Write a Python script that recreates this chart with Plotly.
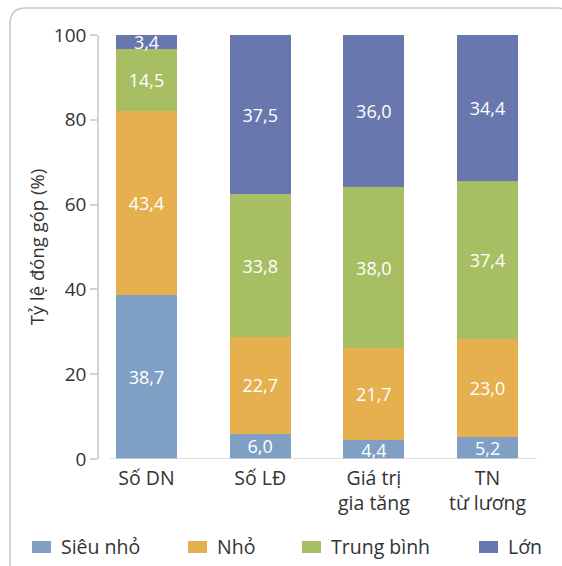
import plotly.graph_objects as go

# Data: share of contribution by enterprise size (%)
categories = ["Số DN", "Số LĐ", "Giá trị<br>gia tăng", "TN<br>từ lương"]
series_names = ["Siêu nhỏ", "Nhỏ", "Trung bình", "Lớn"]
sieu_nho = [38.7, 6.0, 4.4, 5.2]
nho = [43.4, 22.7, 21.7, 23.0]
trung_binh = [14.5, 33.8, 38.0, 37.4]
lon = [3.4, 37.5, 36.0, 34.4]
colors = ["#809fc5", "#e6b04e", "#a7bf62", "#6878ae"]
y_ticks = [0, 20, 40, 60, 80, 100]

W, H = 562, 566
L, R, T, B = 99, 25, 35, 107
pw, ph = W - L - R, H - T - B
FONT = "Open Sans"
TXT = "#333333"


def px(x):
    return (x - L) / pw


def py(y):
    return (H - B - y) / ph


def fmt(v):
    return f"{v:.1f}".replace(".", ",")


fig = go.Figure()
xs = list(range(len(categories)))
for name, vals, col in zip(series_names, [sieu_nho, nho, trung_binh, lon], colors):
    fig.add_trace(go.Bar(
        x=xs, y=vals, name=name, marker=dict(color=col, line=dict(width=0)),
        width=0.537, text=[fmt(v) for v in vals], textposition="inside",
        insidetextanchor="middle", textangle=0,
        textfont=dict(color="white", size=18, family=FONT),
        showlegend=False, cliponaxis=True,
    ))

shapes = []
# rounded frame (left and top edges visible)
r = 16
x0, y0, x1, y1 = 10, 8, 573, 572
path = (f"M {px(x0 + 8)},{py(y1)} Q {px(x0)},{py(y1)} {px(x0)},{py(y1 - 8)} "
        f"L {px(x0)},{py(y0 + r)} "
        f"Q {px(x0)},{py(y0)} {px(x0 + r)},{py(y0)} "
        f"L {px(x1 - r)},{py(y0)} Q {px(x1)},{py(y0)} {px(x1)},{py(y0 + r)} "
        f"L {px(x1)},{py(y1)}")
shapes.append(dict(type="path", path=path, xref="paper", yref="paper",
                   line=dict(color="#c8c8c8", width=1.5)))
# baseline
shapes.append(dict(type="line", xref="paper", yref="y", x0=px(110), x1=px(537),
                   y0=0, y1=0, line=dict(color="#d4d4d4", width=1.5)))

# legend
annotations = []
leg_sq = [32, 188, 302, 479]
for name, col, xs0 in zip(series_names, colors, leg_sq):
    shapes.append(dict(type="rect", xref="paper", yref="paper",
                       x0=px(xs0), x1=px(xs0 + 19), y0=py(553), y1=py(541),
                       fillcolor=col, line=dict(width=0)))
    annotations.append(dict(text=name, xref="paper", yref="paper",
                            x=px(xs0 + 27), y=py(546), xanchor="left",
                            yanchor="middle", showarrow=False,
                            font=dict(size=19.5, color=TXT, family=FONT)))

fig.update_layout(
    width=W, height=H, margin=dict(l=L, r=R, t=T, b=B),
    barmode="stack", plot_bgcolor="white", paper_bgcolor="white",
    font=dict(family=FONT, color=TXT, size=19),
    uniformtext=dict(minsize=18, mode="show"),
    shapes=shapes, annotations=annotations,
    xaxis=dict(range=[-0.418, 3.435], tickvals=xs, ticktext=categories,
               showline=False, ticks="", showgrid=False, zeroline=False,
               ticklabelstandoff=5,
               tickfont=dict(size=19.5, color=TXT)),
    yaxis=dict(range=[0, 100], tickvals=y_ticks, showgrid=False, zeroline=False,
               showline=True, linecolor="#d4d4d4", linewidth=1.5,
               ticks="outside", ticklen=7, tickcolor="#d4d4d4", tickwidth=1.5,
               tickfont=dict(size=19, color=TXT),
               title=dict(text="Tỷ lệ đóng góp (%)", standoff=4,
                          font=dict(size=18.5, color=TXT))),
)

fig.write_html("out.html")
